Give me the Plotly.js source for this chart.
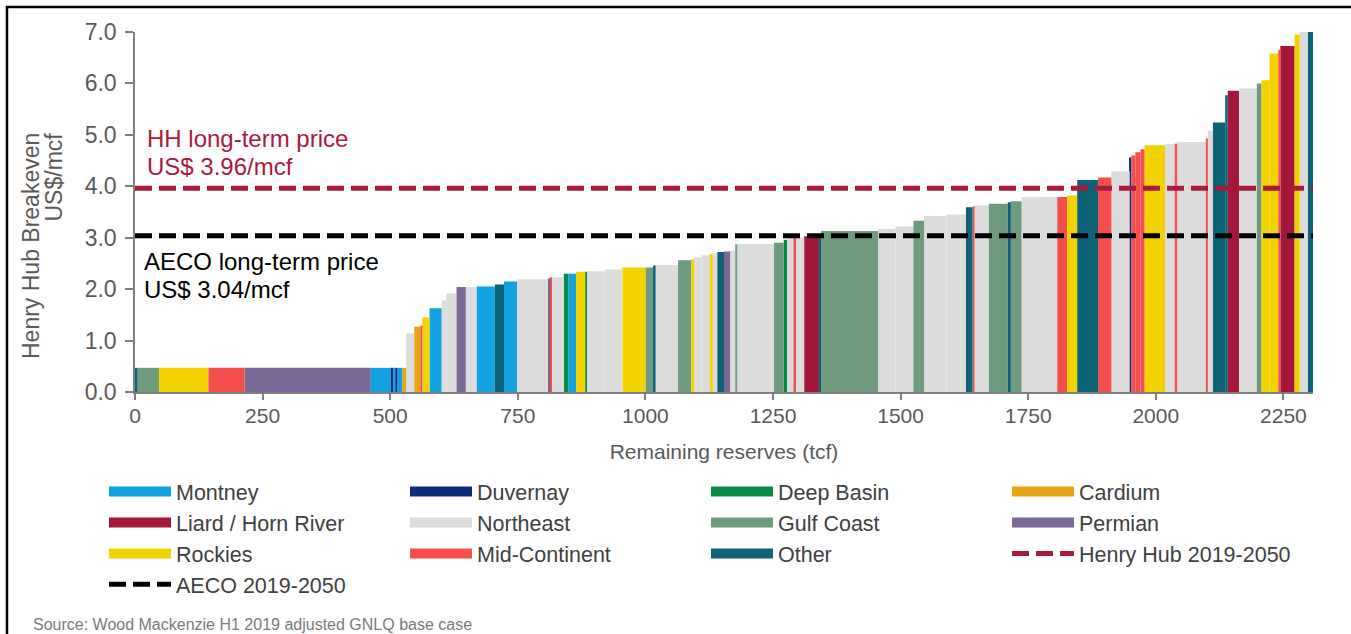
<!DOCTYPE html>
<html>
<head>
<meta charset="utf-8">
<script src="https://cdn.plot.ly/plotly-3.0.1.min.js"></script>
<style>
  html, body { margin: 0; padding: 0; background: #ffffff; }
  #chart { width: 1351px; height: 634px; }
</style>
</head>
<body>
<div id="chart"></div>
<script>
// Gas supply cost curve: breakeven by play, ordered by cost, width = remaining reserves
const regions = ['Montney', 'Duvernay', 'Deep Basin', 'Cardium', 'Liard / Horn River', 'Northeast',
                 'Gulf Coast', 'Permian', 'Rockies', 'Mid-Continent', 'Other'];
const regionColors = ['#12a2e2', '#0c2c7a', '#0a8a47', '#e9a512', '#a3173a', '#dcdcdc',
                      '#6e9a7e', '#7a6898', '#f2d200', '#f44f4d', '#0d6278'];

// one entry per play segment, in cost order
const segRegion = [
  'Other', 'Gulf Coast', 'Rockies', 'Mid-Continent', 'Permian', 'Montney', 'Duvernay', 'Montney', 'Duvernay', 'Montney',
  'Cardium', 'Northeast', 'Cardium', 'Mid-Continent', 'Rockies', 'Montney', 'Northeast', 'Northeast', 'Permian', 'Northeast',
  'Montney', 'Other', 'Montney', 'Northeast', 'Permian', 'Mid-Continent', 'Northeast', 'Deep Basin', 'Montney', 'Rockies',
  'Deep Basin', 'Northeast', 'Northeast', 'Rockies', 'Gulf Coast', 'Other', 'Northeast', 'Gulf Coast', 'Rockies', 'Northeast',
  'Northeast', 'Rockies', 'Northeast', 'Other', 'Permian', 'Northeast', 'Gulf Coast', 'Northeast', 'Gulf Coast', 'Deep Basin',
  'Northeast', 'Mid-Continent', 'Northeast', 'Liard / Horn River', 'Other', 'Gulf Coast', 'Northeast', 'Northeast', 'Gulf Coast', 'Northeast',
  'Northeast', 'Other', 'Mid-Continent', 'Northeast', 'Gulf Coast', 'Other', 'Gulf Coast', 'Northeast', 'Mid-Continent', 'Rockies',
  'Other', 'Mid-Continent', 'Northeast', 'Duvernay', 'Mid-Continent', 'Mid-Continent', 'Mid-Continent', 'Rockies', 'Northeast', 'Mid-Continent',
  'Northeast', 'Mid-Continent', 'Northeast', 'Other', 'Other', 'Liard / Horn River', 'Northeast', 'Gulf Coast', 'Rockies', 'Rockies',
  'Mid-Continent', 'Liard / Horn River', 'Rockies', 'Northeast', 'Other'
];
// remaining reserves of each segment (tcf)
const segReserves = [
  5, 42, 97, 71, 247, 40, 3, 5, 4, 10,
  7, 16, 12, 4, 14, 24, 9, 20, 18, 21,
  36, 18, 26, 61, 3, 4, 23, 9, 15, 18,
  4, 34, 35, 45, 15, 5, 44, 26, 6, 14,
  16, 6, 9, 13, 12, 10, 4, 72, 19, 7,
  12, 5, 16, 29, 4, 112, 34, 35, 21, 44,
  38, 13, 4, 28, 37, 6, 21, 70, 19, 20,
  41, 26, 36, 3, 8, 10, 8, 40, 19, 5,
  56, 4, 10, 24, 5, 22, 35, 9, 16, 17,
  4, 28, 10, 16, 10
];
// Henry Hub breakeven of each segment (US$/mcf)
const segBreakeven = [
  0.47, 0.47, 0.47, 0.47, 0.47, 0.47, 0.47, 0.47, 0.47, 0.47,
  0.47, 1.14, 1.27, 1.29, 1.45, 1.63, 1.78, 1.92, 2.04, 2.04,
  2.05, 2.09, 2.15, 2.19, 2.21, 2.23, 2.23, 2.30, 2.30, 2.34,
  2.34, 2.35, 2.38, 2.42, 2.42, 2.46, 2.47, 2.56, 2.58, 2.62,
  2.66, 2.68, 2.70, 2.72, 2.73, 2.75, 2.87, 2.88, 2.90, 2.96,
  3.00, 3.00, 3.01, 3.03, 3.05, 3.13, 3.17, 3.22, 3.33, 3.42,
  3.45, 3.59, 3.61, 3.63, 3.66, 3.69, 3.71, 3.79, 3.79, 3.82,
  4.12, 4.17, 4.29, 4.56, 4.60, 4.66, 4.72, 4.80, 4.82, 4.83,
  4.86, 4.93, 5.08, 5.24, 5.77, 5.86, 5.90, 6.00, 6.06, 6.58,
  6.65, 6.73, 6.95, 7.00, 7.00
];

// long-term reference prices (US$/mcf)
const priceNames = ['Henry Hub 2019-2050', 'AECO 2019-2050'];
const priceValues = [3.96, 3.04];
const priceColors = ['#a81b3c', '#000000'];

const xTicks = [0, 250, 500, 750, 1000, 1250, 1500, 1750, 2000, 2250];
const yTicks = [0, 1, 2, 3, 4, 5, 6, 7];

// bar centres from cumulative reserves
const xCenters = [];
let cum = 0;
segReserves.forEach(w => { xCenters.push(cum + w / 2); cum += w; });
const totalReserves = cum;

const traces = [];
regions.forEach((name, i) => {
  const idx = [];
  segRegion.forEach((r, j) => { if (r === name) idx.push(j); });
  traces.push({
    type: 'bar',
    name: name,
    legendgroup: name,
    showlegend: false,
    x: idx.map(j => xCenters[j]),
    y: idx.map(j => segBreakeven[j]),
    width: idx.map(j => segReserves[j]),
    marker: { color: regionColors[i], line: { width: 0 } },
    hovertemplate: name + '<br>%{y:.2f} US$/mcf<extra></extra>'
  });
});
// legend swatches
regions.forEach((name, i) => {
  traces.push({
    type: 'scatter', mode: 'lines', name: name, legendgroup: name,
    x: [null], y: [null],
    line: { color: regionColors[i], width: 12 },
    hoverinfo: 'skip'
  });
});
// price lines across the whole curve
priceNames.forEach((name, i) => {
  traces.push({
    type: 'scatter', mode: 'lines', name: name,
    x: [0, totalReserves], y: [priceValues[i], priceValues[i]],
    line: { color: priceColors[i], width: 5, dash: '17px,7px' },
    hoverinfo: 'skip'
  });
});

const axisGrey = '#7f7f7f';
const textGrey = '#595959';
const ppx = x => (x - 135) / 1178;      // page px -> paper x
const ppy = y => (392 - y) / 360;       // page px -> paper y

const layout = {
  width: 1351, height: 634,
  margin: { l: 135, r: 38, t: 32, b: 242, pad: 0, autoexpand: false },
  paper_bgcolor: '#ffffff', plot_bgcolor: '#ffffff',
  font: { family: 'Liberation Sans, Arial, sans-serif', color: textGrey },
  barmode: 'overlay',
  showlegend: true,
  xaxis: {
    range: [0, totalReserves], tickvals: xTicks, ticktext: xTicks.map(String),
    ticks: 'outside', ticklen: 6, tickwidth: 1.5, tickcolor: axisGrey,
    ticklabelstandoff: -2,
    showline: true, linecolor: axisGrey, linewidth: 1.5,
    showgrid: false, zeroline: false, fixedrange: true,
    tickfont: { size: 21, color: textGrey },
    title: { text: 'Remaining reserves (tcf)', font: { size: 21, color: textGrey }, standoff: 18 },
    automargin: false
  },
  yaxis: {
    range: [0, 7], tickvals: yTicks, tickformat: '.1f',
    ticks: 'outside', ticklen: 8, tickwidth: 1.5, tickcolor: axisGrey,
    ticklabelstandoff: 4,
    showline: true, linecolor: axisGrey, linewidth: 1.5,
    showgrid: false, zeroline: false, fixedrange: true,
    tickfont: { size: 23, color: textGrey },
    automargin: false
  },
  legend: {
    orientation: 'h', x: ppx(104), y: ppy(471), xanchor: 'left', yanchor: 'top',
    font: { size: 21.5, color: '#404040' },
    itemwidth: 62, entrywidth: 224, entrywidthmode: 'pixels',
    traceorder: 'normal', bgcolor: 'rgba(0,0,0,0)', itemclick: false, itemdoubleclick: false
  },
  annotations: [
    { xref: 'paper', yref: 'paper', x: ppx(145), y: ppy(138), xanchor: 'left', yanchor: 'middle',
      text: 'HH long-term price', showarrow: false, font: { size: 24, color: '#a81b3c' } },
    { xref: 'paper', yref: 'paper', x: ppx(145), y: ppy(166), xanchor: 'left', yanchor: 'middle',
      text: 'US$ 3.96/mcf', showarrow: false, font: { size: 24, color: '#a81b3c' } },
    { xref: 'paper', yref: 'paper', x: ppx(142), y: ppy(261), xanchor: 'left', yanchor: 'middle',
      text: 'AECO long-term price', showarrow: false, font: { size: 24, color: '#000000' } },
    { xref: 'paper', yref: 'paper', x: ppx(142), y: ppy(289), xanchor: 'left', yanchor: 'middle',
      text: 'US$ 3.04/mcf', showarrow: false, font: { size: 24, color: '#000000' } },
    { xref: 'paper', yref: 'paper', x: ppx(31), y: ppy(131), xanchor: 'center', yanchor: 'top',
      text: 'Henry Hub Breakeven', textangle: -90, showarrow: false, font: { size: 23, color: textGrey } },
    { xref: 'paper', yref: 'paper', x: ppx(53), y: ppy(131), xanchor: 'center', yanchor: 'top',
      text: 'US$/mcf', textangle: -90, showarrow: false, font: { size: 23, color: textGrey } },
    { xref: 'paper', yref: 'paper', x: ppx(31), y: ppy(624), xanchor: 'left', yanchor: 'middle',
      text: 'Source: Wood Mackenzie H1 2019 adjusted GNLQ base case', showarrow: false,
      font: { size: 16, color: '#7a7a7a' } }
  ],
  shapes: [
    { type: 'line', xref: 'paper', yref: 'paper', x0: ppx(6), x1: ppx(1351), y0: ppy(7), y1: ppy(7),
      line: { color: '#000000', width: 2.5 } },
    { type: 'line', xref: 'paper', yref: 'paper', x0: ppx(7), x1: ppx(7), y0: ppy(6), y1: ppy(634),
      line: { color: '#000000', width: 2.5 } }
  ]
};

Plotly.newPlot('chart', traces, layout, { displayModeBar: false });
</script>
</body>
</html>
